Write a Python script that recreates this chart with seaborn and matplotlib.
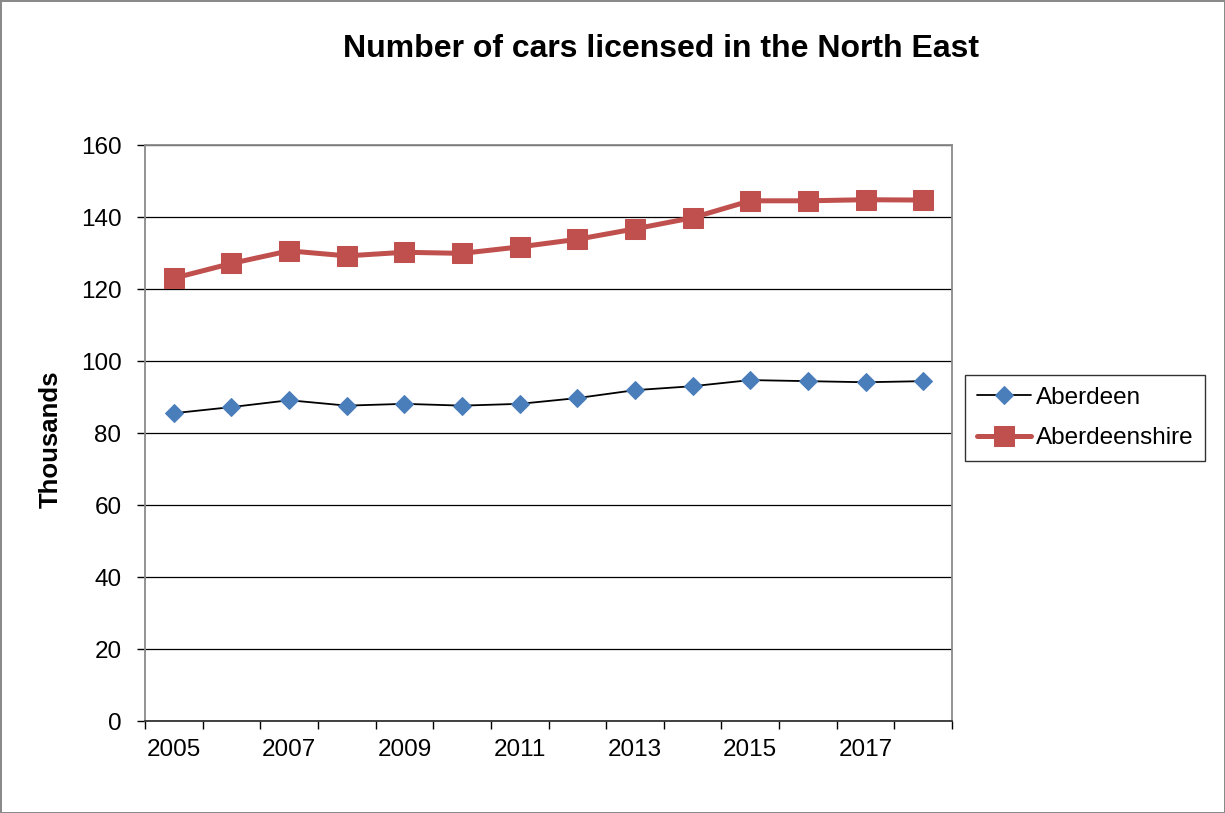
import numpy as np
import matplotlib
matplotlib.use('Agg')
import matplotlib.pyplot as plt
from matplotlib.ticker import FixedLocator
import seaborn as sns

# === Data (thousands of cars) ===
years = [2005, 2006, 2007, 2008, 2009, 2010, 2011, 2012, 2013, 2014, 2015, 2016, 2017, 2018]
aberdeen = [85.5, 87.2, 89.1, 87.6, 88.1, 87.6, 88.1, 89.7, 91.9, 93.0, 94.7, 94.4, 94.1, 94.4]
aberdeenshire = [123.0, 127.1, 130.6, 129.2, 130.2, 129.9, 131.7, 133.8, 136.7, 139.8, 144.5, 144.5, 144.8, 144.7]
year_labels = ['2005', '2007', '2009', '2011', '2013', '2015', '2017']

sns.set_style('white')
plt.rcParams['font.family'] = ['Liberation Sans', 'DejaVu Sans']
plt.rcParams['text.color'] = 'black'
plt.rcParams['axes.labelcolor'] = 'black'
plt.rcParams['xtick.color'] = 'black'
plt.rcParams['ytick.color'] = 'black'

fig = plt.figure(figsize=(12.25, 8.13), dpi=100)
ax = fig.add_axes([145 / 1225, 1 - 721 / 813, (952 - 145) / 1225, (721 - 145) / 813])

blue = '#4a7ebb'
red = '#c0504d'

sns.lineplot(x=years, y=aberdeen, ax=ax, color='black', linewidth=1.3,
             marker='D', markersize=9, markerfacecolor=blue, markeredgecolor=blue,
             label='Aberdeen', zorder=4)
sns.lineplot(x=years, y=aberdeenshire, ax=ax, color=red, linewidth=3.6,
             marker='s', markersize=14, markerfacecolor=red, markeredgecolor=red,
             label='Aberdeenshire', zorder=3)

# axes ranges / ticks
ax.set_xlim(years[0] - 0.5, years[-1] + 0.5)
ax.set_ylim(0, 160)
ax.set_yticks(np.arange(0, 161, 20))
ax.xaxis.set_major_locator(FixedLocator([int(y) for y in year_labels]))
ax.set_xticklabels(year_labels)
ax.xaxis.set_minor_locator(FixedLocator(np.arange(years[0] - 0.5, years[-1] + 1, 1.0)))
ax.tick_params(axis='x', which='major', length=0, labelsize=17.5, pad=13)
ax.tick_params(axis='x', which='minor', length=6, width=1, color='black', direction='out')
ax.tick_params(axis='y', length=6, width=1, color='black', direction='out', labelsize=17.5, pad=11)
ax.xaxis.set_ticks_position('bottom')
ax.yaxis.set_ticks_position('left')

ax.grid(axis='y', color='black', linewidth=0.9)
ax.set_axisbelow(True)
for side in ['top', 'right', 'left']:
    ax.spines[side].set_color('#8a8a8a')
    ax.spines[side].set_linewidth(1.3)
ax.spines['bottom'].set_color('#333333')
ax.spines['bottom'].set_linewidth(1.3)

ax.set_xlabel('')
ax.set_ylabel('Thousands', fontsize=18.5, fontweight='bold')
ax.yaxis.set_label_coords((63 - 145) / 807, 0.49)

fig.suptitle('Number of cars licensed in the North East', x=661 / 1225, y=1 - 49 / 813,
             va='center', fontsize=23, fontweight='bold')

leg = ax.legend(loc='center left', bbox_to_anchor=(965 / 1225, 1 - 418 / 813),
                bbox_transform=fig.transFigure, borderaxespad=0, fontsize=17.5,
                frameon=True, fancybox=False, edgecolor='black', handlelength=2.2,
                handletextpad=0.2, borderpad=0.5, labelspacing=0.75)
leg.get_frame().set_linewidth(1.0)

fig.patch.set_edgecolor('#8a8a8a')
fig.patch.set_linewidth(2)
fig.savefig('out.png', dpi=100, edgecolor=fig.get_edgecolor())
